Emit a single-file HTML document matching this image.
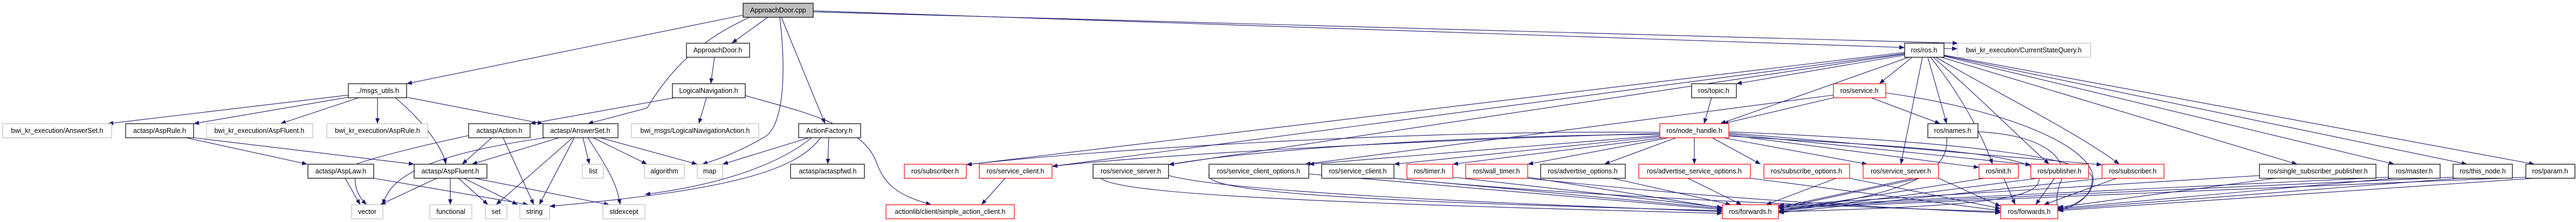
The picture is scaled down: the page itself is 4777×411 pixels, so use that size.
<!DOCTYPE html>
<html><head><meta charset="utf-8"><style>
html,body{margin:0;padding:0;background:#fff;}
svg{display:block;}
text{font-family:"Liberation Sans",sans-serif;font-size:12.5px;fill:#000;text-anchor:middle;}
.e{fill:none;stroke:#191970;stroke-width:1.1;marker-end:url(#a);}
.g rect{fill:#fff;stroke:#bfbfbf;stroke-width:1.2;}
.b rect{fill:#fff;stroke:#000;stroke-width:1.2;}
.r rect{fill:#fff;stroke:#f00;stroke-width:1.2;}
</style></head><body>
<svg width="4777" height="411" viewBox="0 0 4777 411" xmlns="http://www.w3.org/2000/svg">
<defs><marker id="a" viewBox="0 0 10 8" refX="10" refY="4" markerWidth="10" markerHeight="8" markerUnits="userSpaceOnUse" orient="auto"><path d="M0,0 L10,4 L0,8 z" fill="#191970"/></marker></defs>

<!-- edges -->
<!-- ApproachDoor.cpp -->
<path class="e" d="M1378,28 L754,155"/>
<path class="e" d="M1390,32 C1330,60 1260,100 1200,200 L1090,229"/>
<path class="e" d="M1424,32 L1357,80"/>
<path class="e" d="M1446,32 C1460,150 1450,240 1415,255 C1390,270 1350,290 1302,304"/>
<path class="e" d="M1449,32 L1530,229"/>
<path class="e" d="M1508,20 L3532,88"/>
<path class="e" d="M1508,22 L3631,80"/>
<!-- msgs_utils -->
<path class="e" d="M646,176 L200,229"/>
<path class="e" d="M646,180 L359,229"/>
<path class="e" d="M665,181 L520,229"/>
<path class="e" d="M700,181 L700,229"/>
<path class="e" d="M733,181 C780,220 820,270 827,304"/>
<path class="e" d="M754,180 L1007,229"/>
<!-- LogicalNavigation -->
<path class="e" d="M1251,181 L983,229"/>
<path class="e" d="M1310,181 L1296,229"/>
<path class="e" d="M1382,177 C1480,205 1600,230 1625,300 C1640,340 1660,360 1727,379"/>
<path class="e" d="M1325,106 L1318,155"/>
<!-- AspRule -->
<path class="e" d="M345,255 L570,304"/>
<path class="e" d="M359,255 L768,304"/>
<!-- Action.h -->
<path class="e" d="M869,251 C780,270 700,290 660,304 C655,340 660,360 680,379"/>
<path class="e" d="M912,255 L857,304"/>
<path class="e" d="M933,255 L990,379"/>
<!-- AnswerSet.h -->
<path class="e" d="M1012,255 C760,290 720,340 710,379"/>
<path class="e" d="M1037,255 L875,304"/>
<path class="e" d="M1062,255 L920,379"/>
<path class="e" d="M1065,255 L1000,379"/>
<path class="e" d="M1081,255 L1093,304"/>
<path class="e" d="M1090,255 C1140,330 1145,350 1150,379"/>
<path class="e" d="M1100,255 L1200,304"/>
<path class="e" d="M1113,255 L1293,304"/>
<!-- AspLaw, AspFluent -->
<path class="e" d="M640,330 L668,379"/>
<path class="e" d="M693,330 L980,379"/>
<path class="e" d="M810,330 L705,379"/>
<path class="e" d="M835,330 L835,379"/>
<path class="e" d="M850,330 L905,379"/>
<path class="e" d="M860,330 L960,379"/>
<path class="e" d="M880,330 L1130,379"/>
<!-- ActionFactory -->
<path class="e" d="M1500,255 L1340,304"/>
<path class="e" d="M1505,255 C1450,300 1350,340 1196,360"/>
<path class="e" d="M1522,255 C1480,310 1380,350 1019,382"/>
<path class="e" d="M1537,255 L1535,304"/>
<path class="e" d="M1864,330 L1820,379"/>
<!-- ros/ros.h -->
<path class="e" d="M3532,97 L1792,305"/>
<path class="e" d="M3532,99 L1951,308"/>
<path class="e" d="M3532,100 L2167,305"/>
<path class="e" d="M3532,102 L3220,155"/>
<path class="e" d="M3546,106 L3485,155"/>
<path class="e" d="M3540,106 L3190,229"/>
<path class="e" d="M3565,106 L3525,304"/>
<path class="e" d="M3575,106 L3610,229"/>
<path class="e" d="M3580,106 C3640,180 3680,260 3695,304"/>
<path class="e" d="M3585,106 C3660,170 3740,250 3800,304"/>
<path class="e" d="M3590,106 C3700,170 3860,250 3930,304"/>
<path class="e" d="M3600,106 L4260,304"/>
<path class="e" d="M3605,104 L4440,304"/>
<path class="e" d="M3605,103 L4575,304"/>
<path class="e" d="M3605,102 L4700,304"/>
<path class="e" d="M3605,90 L3630,90"/>
<!-- topic / service -->
<path class="e" d="M3174,181 L3160,229"/>
<path class="e" d="M3400,176 L2420,304"/>
<path class="e" d="M3400,181 L3195,229"/>
<path class="e" d="M3470,181 L3598,229"/>
<path class="e" d="M3497,172 C3700,200 3860,260 3880,320 C3890,360 3850,380 3816,388"/>
<!-- node_handle -->
<path class="e" d="M3078,245 C2600,240 2000,280 1792,305"/>
<path class="e" d="M3078,247 C2600,260 2100,290 1951,308"/>
<path class="e" d="M3078,249 C2700,250 2300,280 2167,305"/>
<path class="e" d="M3078,251 L2427,304"/>
<path class="e" d="M3078,253 L2585,304"/>
<path class="e" d="M3085,255 L2694,304"/>
<path class="e" d="M3095,255 L2833,304"/>
<path class="e" d="M3108,255 L2975,304"/>
<path class="e" d="M3142,255 L3142,304"/>
<path class="e" d="M3175,255 L3265,304"/>
<path class="e" d="M3195,255 L3463,304"/>
<path class="e" d="M3206,250 L3670,310"/>
<path class="e" d="M3206,248 L3766,305"/>
<path class="e" d="M3206,246 L3898,305"/>
<path class="e" d="M3206,252 C3500,270 3760,280 3780,320 C3790,360 3760,380 3298,392"/>
<path class="e" d="M3206,244 C3600,260 3880,290 3880,330 C3880,370 3840,385 3816,390"/>
<!-- row5 to forwards -->
<path class="e" d="M2167,325 C2300,360 2900,380 3194,392"/>
<path class="e" d="M2060,310 C1960,350 2200,370 3194,395"/>
<path class="e" d="M2260,310 C2170,350 2400,370 3194,390"/>
<path class="e" d="M2427,322 L3194,388"/>
<path class="e" d="M2585,330 L3194,386"/>
<path class="e" d="M2694,328 L3194,384"/>
<path class="e" d="M2833,328 L3194,385"/>
<path class="e" d="M2990,330 L3210,379"/>
<path class="e" d="M3130,330 L3230,379"/>
<path class="e" d="M3405,330 L3275,379"/>
<path class="e" d="M3560,330 L3298,386"/>
<path class="e" d="M3595,320 L3298,384"/>
<path class="e" d="M3680,330 L3298,390"/>
<path class="e" d="M3780,330 L3298,392"/>
<path class="e" d="M3900,330 L3298,394"/>
<path class="e" d="M3716,330 L3737,379"/>
<path class="e" d="M3810,330 L3775,379"/>
<path class="e" d="M3925,330 L3790,379"/>
<path class="e" d="M3246,330 L3710,390"/>
<path class="e" d="M3430,330 L3710,386"/>
<path class="e" d="M2585,330 C3000,370 3500,385 3710,392"/>
<path class="e" d="M2833,330 C3200,370 3500,385 3710,394"/>
<path class="e" d="M3595,330 L3710,382"/>
<path class="e" d="M4190,325 L3298,380"/>
<path class="e" d="M4220,330 L3816,384"/>
<path class="e" d="M4429,328 L3298,382"/>
<path class="e" d="M4440,330 L3816,386"/>
<path class="e" d="M4549,328 L3298,384"/>
<path class="e" d="M4560,330 L3816,388"/>
<path class="e" d="M4684,328 L3298,386"/>
<path class="e" d="M4700,330 L3816,390"/>
<path class="e" d="M3610,255 C3615,310 3560,360 3298,390"/>
<path class="e" d="M3668,244 C3800,250 3840,300 3820,340 C3810,370 3816,380 3816,392"/>

<!-- nodes -->
<g class="g"><rect x="1378" y="6" width="130" height="26" style="fill:#bfbfbf;stroke:#000"/><text x="1443" y="23">ApproachDoor.cpp</text></g>
<g class="b"><rect x="1273" y="80" width="117" height="26"/><text x="1331" y="97">ApproachDoor.h</text></g>
<g class="b"><rect x="3532" y="80" width="73" height="26"/><text x="3568" y="97">ros/ros.h</text></g>
<g class="g"><rect x="3630" y="80" width="247" height="26"/><text x="3753" y="97">bwi_kr_execution/CurrentStateQuery.h</text></g>
<g class="b"><rect x="646" y="155" width="108" height="26"/><text x="700" y="172">../msgs_utils.h</text></g>
<g class="b"><rect x="1247" y="155" width="135" height="26"/><text x="1314" y="172">LogicalNavigation.h</text></g>
<g class="b"><rect x="3137" y="155" width="83" height="26"/><text x="3178" y="172">ros/topic.h</text></g>
<g class="r"><rect x="3400" y="155" width="97" height="26"/><text x="3448" y="172">ros/service.h</text></g>
<g class="g"><rect x="5" y="229" width="202" height="26"/><text x="106" y="246">bwi_kr_execution/AnswerSet.h</text></g>
<g class="b"><rect x="233" y="229" width="126" height="26"/><text x="296" y="246">actasp/AspRule.h</text></g>
<g class="g"><rect x="383" y="229" width="197" height="26"/><text x="481" y="246">bwi_kr_execution/AspFluent.h</text></g>
<g class="g"><rect x="606" y="229" width="187" height="26"/><text x="700" y="246">bwi_kr_execution/AspRule.h</text></g>
<g class="b"><rect x="869" y="229" width="114" height="26"/><text x="926" y="246">actasp/Action.h</text></g>
<g class="b"><rect x="1007" y="229" width="139" height="26"/><text x="1076" y="246">actasp/AnswerSet.h</text></g>
<g class="g"><rect x="1171" y="229" width="236" height="26"/><text x="1289" y="246">bwi_msgs/LogicalNavigationAction.h</text></g>
<g class="b"><rect x="1481" y="229" width="115" height="26"/><text x="1538" y="246">ActionFactory.h</text></g>
<g class="r"><rect x="3078" y="229" width="128" height="26"/><text x="3142" y="246">ros/node_handle.h</text></g>
<g class="b"><rect x="3575" y="229" width="93" height="26"/><text x="3621" y="246">ros/names.h</text></g>
<g class="b"><rect x="571" y="304" width="122" height="26"/><text x="632" y="321">actasp/AspLaw.h</text></g>
<g class="b"><rect x="768" y="304" width="135" height="26"/><text x="835" y="321">actasp/AspFluent.h</text></g>
<g class="g"><rect x="1080" y="304" width="39" height="26"/><text x="1100" y="321">list</text></g>
<g class="g"><rect x="1195" y="304" width="74" height="26"/><text x="1232" y="321">algorithm</text></g>
<g class="g"><rect x="1293" y="304" width="47" height="26"/><text x="1316" y="321">map</text></g>
<g class="b"><rect x="1466" y="304" width="137" height="26"/><text x="1535" y="321">actasp/actaspfwd.h</text></g>
<g class="r"><rect x="1677" y="304" width="115" height="26"/><text x="1734" y="321">ros/subscriber.h</text></g>
<g class="r"><rect x="1816" y="304" width="135" height="26"/><text x="1883" y="321">ros/service_client.h</text></g>
<g class="b"><rect x="2027" y="304" width="140" height="26"/><text x="2097" y="321">ros/service_server.h</text></g>
<g class="b"><rect x="2242" y="304" width="185" height="26"/><text x="2334" y="321">ros/service_client_options.h</text></g>
<g class="b"><rect x="2451" y="304" width="134" height="26"/><text x="2518" y="321">ros/service_client.h</text></g>
<g class="r"><rect x="2609" y="304" width="85" height="26"/><text x="2651" y="321">ros/timer.h</text></g>
<g class="r"><rect x="2718" y="304" width="115" height="26"/><text x="2775" y="321">ros/wall_timer.h</text></g>
<g class="b"><rect x="2857" y="304" width="157" height="26"/><text x="2935" y="321">ros/advertise_options.h</text></g>
<g class="r"><rect x="3039" y="304" width="207" height="26"/><text x="3142" y="321">ros/advertise_service_options.h</text></g>
<g class="r"><rect x="3271" y="304" width="159" height="26"/><text x="3350" y="321">ros/subscribe_options.h</text></g>
<g class="r"><rect x="3455" y="304" width="140" height="26"/><text x="3525" y="321">ros/service_server.h</text></g>
<g class="r"><rect x="3670" y="304" width="73" height="26"/><text x="3706" y="321">ros/init.h</text></g>
<g class="r"><rect x="3766" y="304" width="107" height="26"/><text x="3819" y="321">ros/publisher.h</text></g>
<g class="r"><rect x="3898" y="304" width="115" height="26"/><text x="3955" y="321">ros/subscriber.h</text></g>
<g class="b"><rect x="4190" y="304" width="216" height="26"/><text x="4298" y="321">ros/single_subscriber_publisher.h</text></g>
<g class="b"><rect x="4429" y="304" width="96" height="26"/><text x="4477" y="321">ros/master.h</text></g>
<g class="b"><rect x="4549" y="304" width="110" height="26"/><text x="4604" y="321">ros/this_node.h</text></g>
<g class="b"><rect x="4684" y="304" width="91" height="26"/><text x="4729" y="321">ros/param.h</text></g>
<g class="g"><rect x="652" y="379" width="58" height="26"/><text x="681" y="396">vector</text></g>
<g class="g"><rect x="797" y="379" width="78" height="26"/><text x="836" y="396">functional</text></g>
<g class="g"><rect x="900" y="379" width="40" height="26"/><text x="920" y="396">set</text></g>
<g class="g"><rect x="964" y="379" width="55" height="26"/><text x="991" y="396">string</text></g>
<g class="g"><rect x="1118" y="379" width="78" height="26"/><text x="1157" y="396">stdexcept</text></g>
<g class="r"><rect x="1643" y="379" width="238" height="26"/><text x="1762" y="396">actionlib/client/simple_action_client.h</text></g>
<g class="r"><rect x="3194" y="379" width="104" height="26"/><text x="3246" y="396">ros/forwards.h</text></g>
<g class="r"><rect x="3710" y="379" width="106" height="26"/><text x="3763" y="396">ros/forwards.h</text></g>
</svg>
</body></html>
